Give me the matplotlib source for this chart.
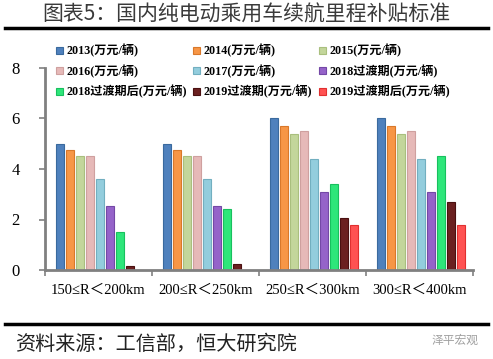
import matplotlib
matplotlib.use("Agg")
import matplotlib.pyplot as plt
import numpy as np

categories = ["150≤R＜200km", "200≤R＜250km", "250≤R＜300km", "300≤R＜400km"]
series_names = ["2013(万元/辆)", "2014(万元/辆)", "2015(万元/辆)",
                "2016(万元/辆)", "2017(万元/辆)", "2018过渡期(万元/辆)",
                "2018过渡期后(万元/辆)", "2019过渡期(万元/辆)", "2019过渡期后(万元/辆)"]
v2013 = [5.0, 5.0, 6.0, 6.0]
v2014 = [4.75, 4.75, 5.7, 5.7]
v2015 = [4.5, 4.5, 5.4, 5.4]
v2016 = [4.5, 4.5, 5.5, 5.5]
v2017 = [3.6, 3.6, 4.4, 4.4]
v2018t = [2.52, 2.52, 3.08, 3.08]
v2018a = [1.5, 2.4, 3.4, 4.5]
v2019t = [0.15, 0.24, 2.04, 2.7]
v2019a = [0.0, 0.0, 1.8, 1.8]
series = [v2013, v2014, v2015, v2016, v2017, v2018t, v2018a, v2019t, v2019a]
colors = ["#4F81BD", "#F79646", "#C3D69B", "#E6B9B8", "#93CDDD",
          "#9563C9", "#2EE67A", "#6B2020", "#FF5252"]
edges = ["#3A6A9E", "#D9782A", "#A9BF7E", "#CFA09F", "#72AFC0",
         "#7448A6", "#18C05E", "#4A1010", "#E03030"]

serif_cjk = ["Liberation Serif", "Noto Sans CJK SC"]

fig = plt.figure(figsize=(4.93, 3.59), dpi=100)
ax = fig.add_axes([45/493, 1-270/359, 428/493, 202/359])

x = np.arange(len(categories))
step = 0.0935
bw = 0.075
handles = []
for i, (vals, c, ec) in enumerate(zip(series, colors, edges)):
    off = (i - 4) * step + 0.015
    b = ax.bar(x + off, vals, width=bw, color=c, edgecolor=ec, linewidth=0.8,
               label=series_names[i])
    handles.append(b)

ax.set_xlim(-0.5, 3.5)
ax.set_ylim(0, 8)
ax.set_yticks([0, 2, 4, 6, 8])
ax.set_yticklabels(["0", "2", "4", "6", "8"], family=serif_cjk, fontsize=12)
ax.set_xticks([0.5 + k for k in range(-1, 4)], minor=False)
ax.set_xticklabels([])
ax.set_xticks(x, minor=True)
ax.set_xticklabels(categories, minor=True, family=serif_cjk, fontsize=10.5)
ax.tick_params(axis="x", which="minor", length=0, pad=10)
ax.tick_params(axis="x", which="major", length=4, width=1.2, color="#808080", direction="out")
ax.tick_params(axis="y", length=4, width=1.2, color="#808080", direction="out", pad=14)
for s in ["top", "right"]:
    ax.spines[s].set_visible(False)
for s in ["left", "bottom"]:
    ax.spines[s].set_color("#808080")
    ax.spines[s].set_linewidth(2)

order = [0, 3, 6, 1, 4, 7, 2, 5, 8]
leg = fig.legend([handles[i] for i in order], [series_names[i] for i in order],
                 ncol=3, loc="upper left", bbox_to_anchor=(50/493, 1-38/359),
                 frameon=False, prop={"family": serif_cjk, "weight": "bold", "size": 8.7},
                 handlelength=0.55, handleheight=0.55, handletextpad=0.3,
                 columnspacing=0.55, labelspacing=0.6, borderpad=0)

fig.text(42/493, 1-15/359, "图表5：国内纯电动乘用车续航里程补贴标准",
         family=["Noto Sans CJK SC"], fontsize=15, color="#3A3A3A",
         va="center", ha="left", fontweight="light")
fig.add_artist(plt.Line2D([5/493, 488/493], [1-28/359, 1-28/359], color="black", lw=2.5))
fig.add_artist(plt.Line2D([5/493, 488/493], [1-324/359, 1-324/359], color="black", lw=2.5))
fig.text(15/493, 1-344/359, "资料来源：工信部，恒大研究院",
         family=["Noto Sans CJK SC"], fontsize=14.5, color="#222222",
         va="center", ha="left", fontweight="light")
fig.text(478/493, 1-340/359, "泽平宏观", family=["Noto Sans CJK SC"], fontsize=8.5,
         color="#A0A0A0", va="center", ha="right")

fig.savefig("out.png", dpi=100)
